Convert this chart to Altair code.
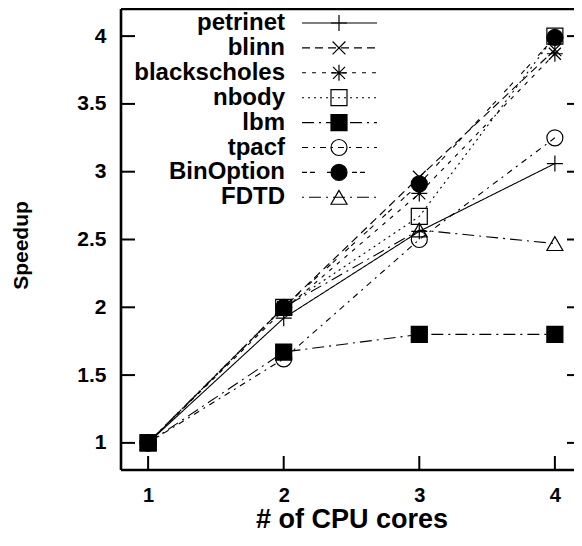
import altair as alt
import pandas as pd

# ---------------- data ----------------
cores = [1, 2, 3, 4]
series_names = ["petrinet", "blinn", "blackscholes", "nbody", "lbm", "tpacf", "BinOption", "FDTD"]
petrinet = [1.0, 1.92, 2.56, 3.06]
blinn = [1.0, 2.0, 2.96, 3.90]
blackscholes = [1.0, 1.98, 2.84, 3.87]
nbody = [1.0, 2.0, 2.67, 4.0]
lbm = [1.0, 1.67, 1.80, 1.80]
tpacf = [1.0, 1.62, 2.50, 3.25]
binoption = [1.0, 2.0, 2.91, 3.99]
fdtd = [1.0, 2.0, 2.57, 2.47]
x_ticks = [1, 2, 3, 4]
y_ticks = [1, 1.5, 2, 2.5, 3, 3.5, 4]

series_values = [petrinet, blinn, blackscholes, nbody, lbm, tpacf, binoption, fdtd]
rows = []
for name, vals in zip(series_names, series_values):
    for c, v in zip(cores, vals):
        rows.append({"series": name, "cores": c, "speedup": v})
df = pd.DataFrame(rows)

# ---------------- styling ----------------
W, H = 461, 461
XDOM = [0.8, 4.2]
YDOM = [0.8, 4.2]
FONT = "Liberation Sans"

PLUS = "M-1,0L1,0M0,-1L0,1"
XMARK = "M-0.8,-0.8L0.8,0.8M-0.8,0.8L0.8,-0.8"
STAR = "M-1,0L1,0M0,-1L0,1M-0.75,-0.75L0.75,0.75M-0.75,0.75L0.75,-0.75"
shapes = [PLUS, XMARK, STAR, "square", "square", "circle", "circle", "triangle-up"]
fills = ["transparent", "transparent", "transparent", "transparent",
         "black", "transparent", "black", "transparent"]
dashes = [[1, 0], [8, 5], [4, 6], [2, 4], [12, 5, 2, 5], [6, 5, 2, 5], [5, 3, 5, 12], [2, 5, 12, 5]]

xscale = alt.Scale(domain=XDOM, nice=False, zero=False)
yscale = alt.Scale(domain=YDOM, nice=False, zero=False)
dash_enc = alt.StrokeDash("series:N", scale=alt.Scale(domain=series_names, range=dashes), legend=None)
shape_enc = alt.Shape("series:N", scale=alt.Scale(domain=series_names, range=shapes), legend=None)
fill_enc = alt.Fill("series:N", scale=alt.Scale(domain=series_names, range=fills), legend=None)

x_enc = alt.X("cores:Q", scale=xscale,
              axis=alt.Axis(values=x_ticks, format="d", ticks=False, domain=False, grid=False,
                            labelFont=FONT, labelFontWeight="bold", labelFontSize=20,
                            labelColor="black", labelPadding=15,
                            title="# of CPU cores", titleFont=FONT, titleFontWeight="bold",
                            titleFontSize=27, titleColor="black",
                            titleY=57, titleBaseline="alphabetic"))
y_enc = alt.Y("speedup:Q", scale=yscale,
              axis=alt.Axis(values=y_ticks, format="~g", ticks=False, domain=False, grid=False,
                            labelFont=FONT, labelFontWeight="bold", labelFontSize=21,
                            labelColor="black", labelPadding=15,
                            title="Speedup", titleFont=FONT, titleFontWeight="bold",
                            titleFontSize=21, titleColor="black",
                            titleX=-94, titleY=236, titleBaseline="alphabetic"))

base = alt.Chart(df)
lines = base.mark_line(color="black", strokeWidth=1.1).encode(
    x=x_enc, y=y_enc, strokeDash=dash_enc, detail="series:N", order="cores:Q")
points = base.mark_point(stroke="black", strokeWidth=1.2, size=256, opacity=1).encode(
    x="cores:Q", y="speedup:Q", shape=shape_enc, fill=fill_enc)

# ---------------- frame and inward ticks ----------------
xt = pd.DataFrame({"t": x_ticks})
yt = pd.DataFrame({"t": y_ticks})
frame_df = pd.DataFrame({"k": [0]})
left_border = alt.Chart(frame_df).mark_rule(color="black", strokeWidth=2.6).encode(
    x=alt.value(0), y=alt.value(0), y2=alt.value(H))
top_border = alt.Chart(frame_df).mark_rule(color="black", strokeWidth=2.6).encode(
    x=alt.value(0), x2=alt.value(W), y=alt.value(0))
bottom_border = alt.Chart(frame_df).mark_rule(color="black", strokeWidth=2.6).encode(
    x=alt.value(0), x2=alt.value(W), y=alt.value(H))
bottom_ticks = alt.Chart(xt).mark_rule(color="black", strokeWidth=2).encode(
    x=alt.X("t:Q", scale=xscale), y=alt.value(H), y2=alt.value(H - 14))
left_ticks = alt.Chart(yt).mark_rule(color="black", strokeWidth=2).encode(
    y=alt.Y("t:Q", scale=yscale), x=alt.value(0), x2=alt.value(14))
right_ticks = alt.Chart(yt).mark_rule(color="black", strokeWidth=2).encode(
    y=alt.Y("t:Q", scale=yscale), x=alt.value(W - 15), x2=alt.value(W))

# ---------------- key (gnuplot style: label, then line sample with marker) ----------------
ROW0, ROWSTEP = 14, 24.9
per_px = (YDOM[1] - YDOM[0]) / H
key_df = pd.DataFrame({
    "series": series_names,
    "ky": [YDOM[1] - (ROW0 + ROWSTEP * i) * per_px for i in range(len(series_names))],
})
key = alt.Chart(key_df)
key_lines = key.mark_rule(color="black", strokeWidth=1.1).encode(
    x=alt.value(181), x2=alt.value(256), y=alt.Y("ky:Q", scale=yscale), strokeDash=dash_enc)
key_points = key.mark_point(stroke="black", strokeWidth=1.2, size=256, opacity=1).encode(
    x=alt.value(218), y=alt.Y("ky:Q", scale=yscale), shape=shape_enc, fill=fill_enc)
key_text = key.mark_text(align="right", baseline="middle", font=FONT, fontWeight="bold",
                         fontSize=24, color="black").encode(
    x=alt.value(164), y=alt.Y("ky:Q", scale=yscale), text="series:N")

chart = alt.layer(
    lines, points, key_lines, key_points, key_text,
    left_border, top_border, bottom_border, bottom_ticks, left_ticks, right_ticks,
).properties(
    width=W, height=H,
    autosize=alt.AutoSizeParams(type="none"),
    padding={"left": 113, "top": 1, "right": -8, "bottom": 62},
).configure_view(stroke=None).configure(background="white")

chart.save("out.html", embed_options={"renderer": "svg", "actions": False})
